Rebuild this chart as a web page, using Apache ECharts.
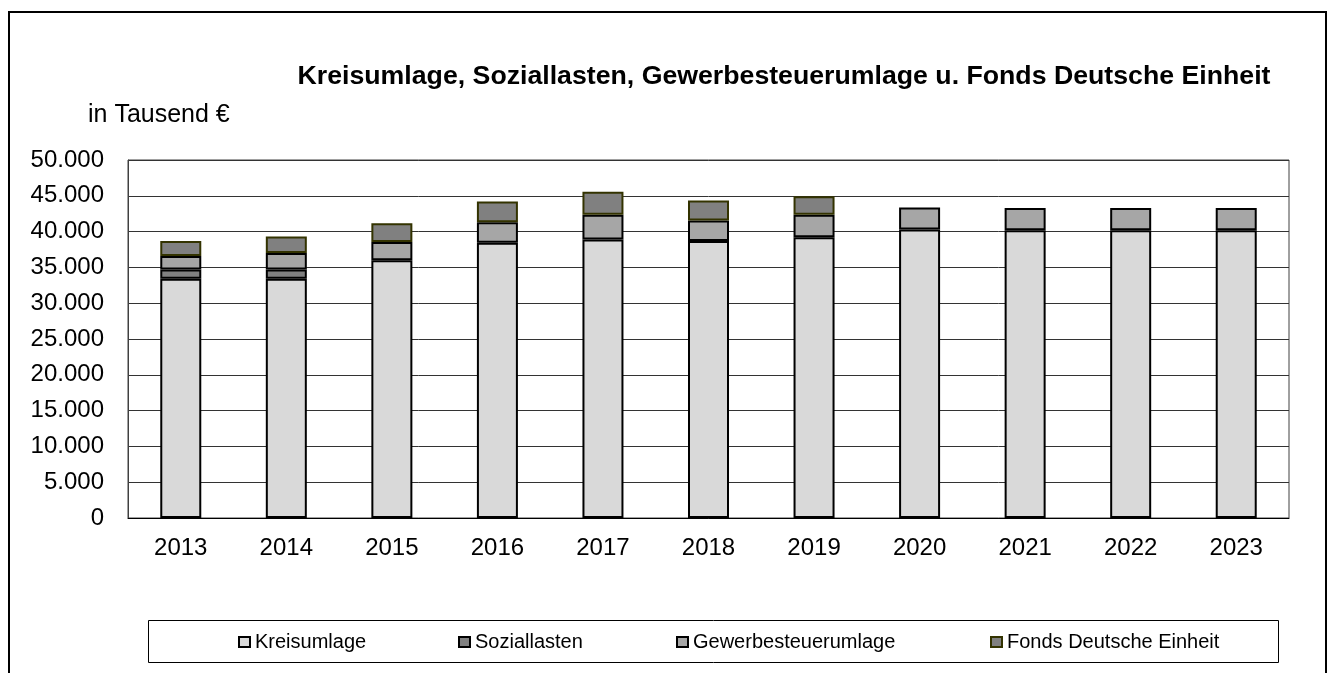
<!DOCTYPE html>
<html>
<head>
<meta charset="utf-8">
<script src="https://cdn.jsdelivr.net/npm/echarts@6/dist/echarts.min.js"></script>
<style>
  html, body { margin: 0; padding: 0; background: #fff; }
  #chart { width: 1333px; height: 673px; }
</style>
</head>
<body>
<div id="chart"></div>
<script>
// Jahre
const years = ['2013', '2014', '2015', '2016', '2017', '2018', '2019', '2020', '2021', '2022', '2023'];
// Werte in Tausend €
const kreisumlage = [33400, 33400, 36000, 38450, 38900, 38700, 39200, 40300, 40200, 40200, 40200];
const soziallasten = [1300, 1300, null, null, null, null, null, null, null, null, null];
const gewerbesteuerumlage = [1900, 2300, 2550, 2850, 3450, 2850, 3150, 3050, 3100, 3100, 3100];
const fondsDeutscheEinheit = [2100, 2300, 2600, 2900, 3200, 2800, 2600, null, null, null, null];
const yTicks = [0, 5000, 10000, 15000, 20000, 25000, 30000, 35000, 40000, 45000, 50000];

const font = 'Liberation Sans, Arial, sans-serif';
const chart = echarts.init(document.getElementById('chart'));

const fmt = v => String(v).replace(/\B(?=(\d{3})+(?!\d))/g, '.');

function bar(name, data, color, border) {
  return {
    name: name,
    type: 'bar',
    stack: 'total',
    data: data,
    barWidth: 41,
    itemStyle: { color: color, borderColor: border, borderWidth: 2 },
    emphasis: { disabled: true }
  };
}

function legendAt(name, left) {
  return {
    data: [name],
    left: left,
    top: 632,
    padding: 0,
    icon: 'rect',
    itemWidth: 11,
    itemHeight: 10,
    textStyle: { fontFamily: font, fontSize: 20, color: '#000' }
  };
}

chart.setOption({
  animation: false,
  title: {
    text: 'Kreisumlage, Soziallasten, Gewerbesteuerumlage u. Fonds Deutsche Einheit',
    left: 779,
    textAlign: 'center',
    top: 58,
    textStyle: { fontFamily: font, fontSize: 26.7, fontWeight: 'bold', color: '#000' }
  },
  graphic: [
    { type: 'rect', shape: { x: 9, y: 12, width: 1317, height: 680 },
      style: { fill: 'none', stroke: '#000', lineWidth: 2 } },
    { type: 'text', left: 88, top: 103,
      style: { text: 'in Tausend €', fontFamily: font, fontSize: 25, fill: '#000' } },
    { type: 'rect', shape: { x: 148.5, y: 620.5, width: 1130, height: 42 },
      style: { fill: 'none', stroke: '#000', lineWidth: 1 } }
  ],
  legend: [
    legendAt('Kreisumlage', 238),
    legendAt('Soziallasten', 458),
    legendAt('Gewerbesteuerumlage', 676),
    legendAt('Fonds Deutsche Einheit', 990)
  ],
  grid: {
    left: 128, right: 44, top: 160, bottom: 155,
    show: true, borderColor: '#404040', borderWidth: 1
  },
  xAxis: {
    type: 'category',
    data: years,
    axisLine: { lineStyle: { color: '#000', width: 1 } },
    axisTick: { show: false },
    axisLabel: { fontFamily: font, fontSize: 24, color: '#000', margin: 18 }
  },
  yAxis: {
    type: 'value',
    min: yTicks[0],
    max: yTicks[yTicks.length - 1],
    interval: 5000,
    axisLine: { show: true, lineStyle: { color: '#404040' } },
    axisTick: { show: false },
    splitLine: { lineStyle: { color: '#333', width: 1 } },
    axisLabel: { fontFamily: font, fontSize: 24, color: '#000', margin: 24, formatter: fmt }
  },
  series: [
    bar('Kreisumlage', kreisumlage, '#d9d9d9', '#000'),
    bar('Soziallasten', soziallasten, '#808080', '#000'),
    bar('Gewerbesteuerumlage', gewerbesteuerumlage, '#a6a6a6', '#000'),
    bar('Fonds Deutsche Einheit', fondsDeutscheEinheit, '#808080', '#333300')
  ]
});
</script>
</body>
</html>
